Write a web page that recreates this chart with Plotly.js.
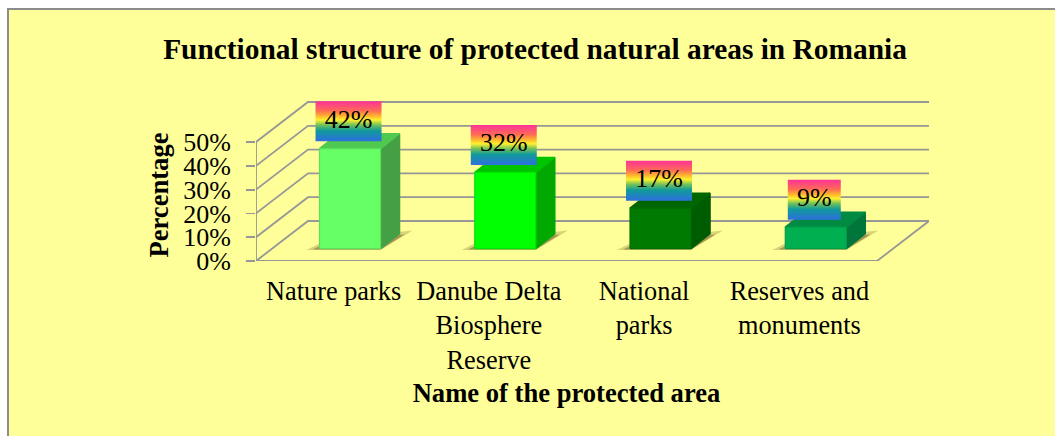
<!DOCTYPE html>
<html>
<head>
<meta charset="utf-8">
<script src="https://cdn.plot.ly/plotly-3.0.1.min.js"></script>
<style>html,body{margin:0;padding:0;background:#fff}#c{width:1055px;height:436px}</style>
</head>
<body>
<div id="c"></div>
<script>
var categories = ['Nature parks', 'Danube Delta<br>Biosphere<br>Reserve', 'National<br>parks', 'Reserves and<br>monuments'];
var values = [42, 32, 17, 9];
var tickValues = [0, 10, 20, 30, 40, 50];
var frontColors = ['#66ff66', '#00ff00', '#007a00', '#00b050'];
var edgeColors = ['#5ce05c', '#00e600', '#006e00', '#00a048'];
var sideColors = ['#45a045', '#00a800', '#005c00', '#00763a'];
var topColors = ['#4fc94f', '#00c400', '#006600', '#008a42'];
var rainbow = [[0, '#2e6fe0'], [0.26, '#109a9a'], [0.4, '#6cc05c'], [0.53, '#fff02e'], [0.64, '#ffb030'], [0.76, '#ff6a55'], [1, '#ff3399']];

var W = 1055, H = 436;
// pixel geometry of the oblique frame
var left = 256, frontRight = 877, zeroY = 261, pxPerCat = (frontRight - left) / 4, pxPerUnit = 2.38;
var depthX = 52, depthY = 40;
var barDX = 19, barDY = 15, barW = 61, barLift = 12.4, barShift = 16.4;

var dx = function (px) { return px / pxPerCat; };
var dy = function (px) { return px / pxPerUnit; };
var backX = dx(depthX), backY = dy(depthY);
var xs = categories.map(function (_, i) { return i; });

var traces = [];
// front-plane trace that owns the visible axes
traces.push({ type: 'scatter', mode: 'none', x: xs, y: values, xaxis: 'x', yaxis: 'y', hoverinfo: 'skip', showlegend: false });

function poly(x, y, color, extra) {
  var t = { type: 'scatter', mode: 'lines', x: x, y: y, xaxis: 'x2', yaxis: 'y2', fill: 'toself', fillcolor: color,
    line: { width: 0, color: color }, hoverinfo: 'skip', showlegend: false };
  for (var k in (extra || {})) t[k] = extra[k];
  traces.push(t);
}

// walls and floor
var gx = [], gy = [];
tickValues.forEach(function (v) {
  gx.push(-0.5, -0.5 + backX, 3.5 + backX, null);
  gy.push(v, v + backY, v + backY, null);
});
gx.push(-0.5, 3.5, 3.5 + backX, null, -0.5, -0.5);
gy.push(0, 0, backY, null, 0, 50);
traces.push({ type: 'scatter', mode: 'lines', x: gx, y: gy, xaxis: 'x2', yaxis: 'y2', connectgaps: false,
  line: { color: '#979797', width: 1.8 }, hoverinfo: 'skip', showlegend: false });

// bars
values.forEach(function (v, i) {
  var c = i + dx(barShift);
  var l = c - dx(barW) / 2, r = c + dx(barW) / 2, b = dy(barLift), t = v + b;
  // soft shadow
  poly([l - dx(13), l + dx(8), r + dx(32), r], [b - dy(1.5), b + dy(9), b + dy(18), b - dy(1.5)], 'rgba(125,105,45,0.3)');
  poly([l - dx(7), l + dx(8), r + dx(24), r], [b - dy(1), b + dy(6), b + dy(14), b - dy(1)], 'rgba(110,90,40,0.5)');
  poly([r, r + dx(barDX), r + dx(barDX), r, r], [b, b + dy(barDY), t + dy(barDY), t, b], sideColors[i], { line: { width: 1.5, color: sideColors[i] } });
  poly([l, l + dx(barDX), r + dx(barDX), r, l], [t, t + dy(barDY), t + dy(barDY), t, t], topColors[i], { line: { width: 1.5, color: topColors[i] } });
  poly([l, r, r, l, l], [b, b, t, t, b], frontColors[i], { line: { width: 1.2, color: edgeColors[i] } });
});

// rainbow value labels
values.forEach(function (v, i) {
  var c = i + dx(barShift - 1.5), b = dy(barLift) + v + dy(7.5);
  var half = dx(String(v).length > 1 ? 33 : 26.5), h = dy(40);
  poly([c - half, c + half, c + half, c - half, c - half], [b, b, b + h, b + h, b], '#ff0', {
    fillgradient: { type: 'vertical', colorscale: rainbow } });
  traces.push({ type: 'scatter', mode: 'text', x: [c], y: [b + h / 2], text: [v + '%'], textposition: 'middle center',
    textfont: { family: 'Liberation Serif', size: 26, color: '#000' }, xaxis: 'x2', yaxis: 'y2', hoverinfo: 'skip', showlegend: false });
});

var overlayTop = 90;
var layout = {
  width: W, height: H, margin: { l: 0, r: 0, t: 0, b: 0 }, paper_bgcolor: '#ffffff', plot_bgcolor: 'rgba(0,0,0,0)',
  showlegend: false,
  font: { family: 'Liberation Serif', color: '#000', size: 26 },
  title: { text: '<b>Functional structure of protected natural areas in Romania</b>', x: 535 / W, xanchor: 'center', y: 1 - 49 / H, yanchor: 'middle',
    font: { family: 'Liberation Serif', size: 29.4, color: '#000' } },
  shapes: [{ type: 'rect', layer: 'below', xref: 'paper', yref: 'paper', x0: 8 / W, x1: 1.02, y0: -0.02, y1: 1 - 9 / H,
    fillcolor: '#ffff99', line: { color: '#8c8c8c', width: 2 } }],
  xaxis: { domain: [left / W, frontRight / W], range: [-0.5, 3.5], tickmode: 'array', tickvals: xs, ticktext: categories,
    showgrid: false, zeroline: false, showline: false, ticks: '', ticklabelstandoff: 12, tickangle: 0, anchor: 'y', fixedrange: true,
    tickfont: { family: 'Liberation Serif', size: 26.3, color: '#000' },
    title: { text: '<b>Name of the protected area</b>', standoff: 9, font: { family: 'Liberation Serif', size: 26.6, color: '#000' } } },
  yaxis: { domain: [1 - zeroY / H, 1 - 129 / H], range: [0, (zeroY - 129) / pxPerUnit], tickmode: 'array', tickvals: tickValues,
    ticktext: tickValues.map(function (v) { return v + '%'; }), showgrid: false, zeroline: false, showline: false,
    ticks: 'outside', ticklen: 9, tickwidth: 1.8, tickcolor: '#979797', ticklabelstandoff: 10, anchor: 'x', fixedrange: true,
    tickfont: { family: 'Liberation Serif', size: 26, color: '#000' },
    title: { text: '<b>Percentage</b>', standoff: 6, font: { family: 'Liberation Serif', size: 26.6, color: '#000' } } },
  xaxis2: { domain: [left / W, (frontRight + depthX) / W], range: [-0.5, 3.5 + backX], visible: false, anchor: 'y2', fixedrange: true },
  yaxis2: { domain: [1 - zeroY / H, 1 - overlayTop / H], range: [0, (zeroY - overlayTop) / pxPerUnit], visible: false, anchor: 'x2', fixedrange: true }
};
Plotly.newPlot('c', traces, layout, { displayModeBar: false, staticPlot: true });
</script>
</body>
</html>
